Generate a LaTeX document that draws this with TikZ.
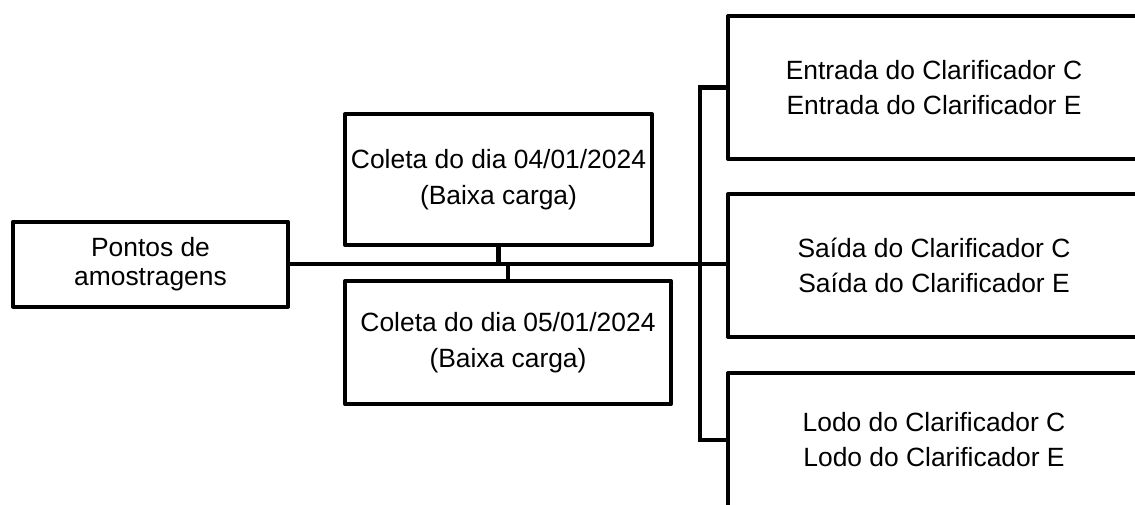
\documentclass[tikz,border=0pt]{standalone}
\usepackage{fontspec}
\setmainfont{Liberation Sans}
\begin{document}
\begin{tikzpicture}[x=1pt,y=-1pt,
  boxstyle/.style={draw=black,line width=4pt,fill=white,rectangle,inner sep=0pt,align=center,line join=round,font=\fontsize{26.4}{35}\selectfont},
  wire/.style={draw=black,line width=4.5pt}]
\useasboundingbox (0,0) rectangle (1135,504);
\clip (0,0) rectangle (1135,504);
\fill[white] (0,0) rectangle (1135,504);
% nodes
\node[boxstyle,minimum width=275pt,minimum height=85pt,font=\fontsize{26.4}{28.5}\selectfont] (p) at (150.5,264) {Pontos de\\amostragens};
\node[boxstyle,minimum width=307pt,minimum height=131pt,font=\fontsize{26.4}{36}\selectfont] (c4) at (498.5,179.5) {Coleta do dia 04/01/2024\\(Baixa carga)};
\node[boxstyle,minimum width=326pt,minimum height=123pt,font=\fontsize{26.4}{36}\selectfont] (c5) at (508,342.5) {Coleta do dia 05/01/2024\\(Baixa carga)};
\node[boxstyle,minimum width=412pt,minimum height=143pt] (en) at (934,87.5) {Entrada do Clarificador C\\Entrada do Clarificador E};
\node[boxstyle,minimum width=412pt,minimum height=143pt] (sa) at (934,265.5) {Saída do Clarificador C\\Saída do Clarificador E};
\node[boxstyle,minimum width=412pt,minimum height=134pt] (lo) at (934,440) {Lodo do Clarificador C\\Lodo do Clarificador E};
% bus coordinate
\coordinate (bt) at (700,87.5);
\coordinate (bb) at (700,440);
% connectors
\draw[wire] (p.east) -- (p.east -| sa.west);
\draw[wire] (c4.south) -- (c4.south |- p.east);
\draw[wire] (c5.north) -- (c5.north |- p.east);
\draw[wire,line join=miter] (en.west) -- (bt) -- (bb) -- (lo.west);
\end{tikzpicture}
\end{document}
